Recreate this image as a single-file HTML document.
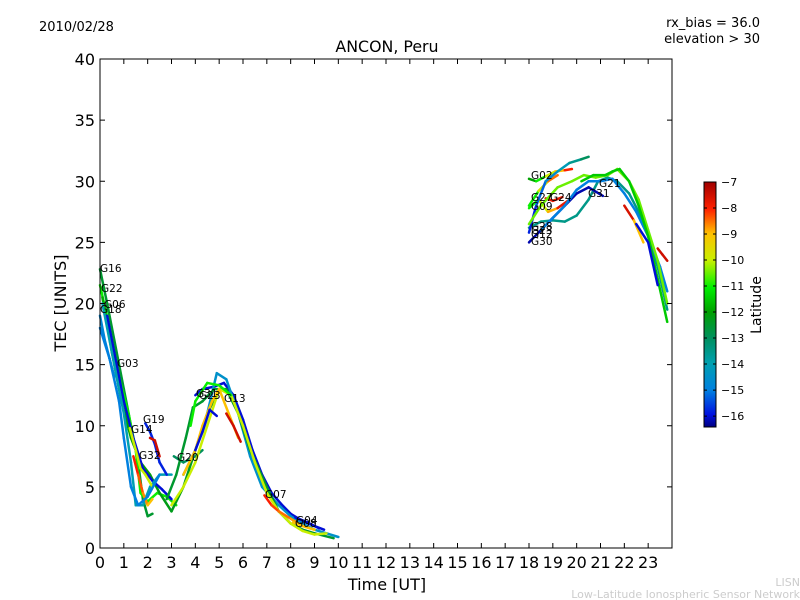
<!DOCTYPE html>
<html><head><meta charset="utf-8"><style>
body{margin:0;background:#fff;}
svg{display:block;font-family:"DejaVu Sans","Liberation Sans",sans-serif;}
</style></head><body>
<svg id="chart" width="800" height="600" viewBox="0 0 800 600">
<defs>
<linearGradient id="cbgrad" x1="0" y1="1" x2="0" y2="0">
<stop offset="0" stop-color="#000080"/><stop offset="0.05" stop-color="#0010e0"/>
<stop offset="0.15" stop-color="#0080e0"/><stop offset="0.26" stop-color="#00a0b0"/>
<stop offset="0.36" stop-color="#009060"/><stop offset="0.47" stop-color="#00a000"/>
<stop offset="0.57" stop-color="#00f000"/><stop offset="0.68" stop-color="#c8f000"/>
<stop offset="0.79" stop-color="#ffc000"/><stop offset="0.89" stop-color="#ff2000"/>
<stop offset="1" stop-color="#a00000"/>
</linearGradient>
</defs>
<text x="39" y="31" font-size="13">2010/02/28</text>
<text x="760" y="27" font-size="13" text-anchor="end">rx_bias = 36.0</text>
<text x="760" y="43" font-size="13" text-anchor="end">elevation &gt; 30</text>
<text x="387" y="52" font-size="15.8" text-anchor="middle">ANCON, Peru</text>
<g id="series"></g>
<g id="labels" font-size="10.5"></g>
<rect x="100" y="59" width="572" height="489" fill="none" stroke="#000" stroke-width="1"/>
<g id="axes"></g>
<text x="387" y="590" font-size="16" text-anchor="middle">Time [UT]</text>
<text transform="translate(66,303) rotate(-90)" font-size="16" text-anchor="middle">TEC [UNITS]</text>
<rect x="704" y="182" width="12" height="245" fill="url(#cbgrad)" stroke="#000" stroke-width="1"/>
<g id="cbticks" font-size="11"></g>
<text transform="translate(761,305) rotate(-90)" font-size="14" text-anchor="middle">Latitude</text>
<text x="800" y="586" font-size="11" fill="#ccc" text-anchor="end">LISN</text>
<text x="800" y="598" font-size="11" fill="#ccc" text-anchor="end">Low-Latitude Ionospheric Sensor Network</text>
</svg>
<script>
const xTicks=[0,1,2,3,4,5,6,7,8,9,10,11,12,13,14,15,16,17,18,19,20,21,22,23];
const yTicks=[0,5,10,15,20,25,30,35,40];
const cbTicks=[-7,-8,-9,-10,-11,-12,-13,-14,-15,-16];
const trackNames=["G16","G22","G06","G18","G03","teal1","G19","G14","G32","G32b","G20","G13","hump-teal","hump-green","hump-yellow","hump-orange","G31","hump-red","G23","G07","G04","G08","lightblue1",
"G02","G27","G24","G09","G28","G12","G30","G31b","G21","green2","red1","red2","blue1"];
const trackTimes=[
[0,0.3,0.6,1,1.3,1.6,1.8,2.0,2.2],
[0,0.4,0.8,1.2,1.5,1.7,2,2.4,2.8,3.2],
[0.1,0.5,0.9,1.3,1.7,2.1,2.5,3,3.5,4,4.5,5],
[0,0.2,0.4,0.6],
[0.3,0.6,1,1.4,1.8,2.2,2.6,3],
[0.1,0.5,1,1.3,1.5,1.8,2.1,2.5,3],
[1.9,2.1,2.3,2.5,2.8],
[1.25,1.5,1.7,1.9,2.2],
[1.4,1.6,1.8,2,2.2],
[2.1,2.3,2.5],
[3.1,3.5,4,4.3],
[4,4.3,4.8,5.2,5.6,6,6.4,6.8,7.2,7.6,8,8.5,9,9.4],
[3.5,4,4.5,4.9,5.3,5.8,6.3,6.8,7.5,8,8.5,9,9.5,10],
[2.8,3.2,3.6,3.9,4.3,4.8,5.3,5.8,6.3,7,7.5,8,8.5,9,9.8],
[3,3.5,4,4.5,5,5.5,6,6.5,7,7.5,8,8.5,9,9.5],
[3.5,4,4.3,4.7,5,5.4,5.8],
[4,4.3,4.6,4.9],
[5.3,5.6,5.9],
[3.8,4,4.5,5,5.5],
[6.9,7.2,7.5,8,8.5,9],
[8.2,8.7,9.2],
[8.1,8.5,9],
[0,0.4,0.8,1,1.3,1.6,2,2.5],
[18,18.3,18.7,19.1,19.5,19.8],
[18,18.4,18.8,19.2],
[18.7,19,19.4],
[18,18.4,18.8,19.2,19.7],
[18,18.5,19,19.5,20,20.5,20.9,21.3,21.7,22.2,22.6,23,23.4,23.8],
[18,18.3,18.7,19.2,19.7,20.2,20.5],
[18,18.5,19,19.5,20,20.5,21.1],
[18.5,19,19.5,20,20.5,21,21.5,22,22.5,23,23.5,23.8],
[18,18.5,19.2,19.8,20.3,20.8,21.3,21.7,22.2,22.6,23,23.4,23.8],
[20.2,20.7,21.2,21.5,21.8,22.2,22.6,23,23.4,23.8],
[22,22.4,22.8],
[23.4,23.6,23.8],
[22.5,23,23.4]];
const trackTec=[
[22.8,20,17,13,10,7,4,2.6,2.8],
[21.5,18,14,11,8,4.5,3.8,4.5,4.2,3.5],
[20.5,16,12,9,7,6,4.5,3,5,8,11,13],
[19,17,15.5,14],
[19,16,12,9,6.5,5.5,4.8,4],
[20,16,11,7,3.5,3.5,5,6,6],
[10.2,9.5,8.5,7,6],
[9.8,8,6.5,6,5],
[7.5,6,4.5,3.5,4],
[9,8.8,7.5],
[7.5,7,7.5,8],
[12.5,13,13.2,13.5,12.5,10.5,8,6,4.5,3.6,2.8,2.2,1.8,1.5],
[6,8,11,14.3,13.8,11,7.5,5,3.5,2.6,2,1.5,1.2,0.9],
[4,6,9,11.5,12,13,13,11,8,5,3,2,1.5,1.2,0.8],
[3.5,5,7,10,13,12.5,10,7,4.5,3,2,1.4,1.1,1.2],
[6,8,10,12,13,11,9],
[8,9.5,11.3,10.8],
[11,10,8.7],
[10,12,13.5,13.3,12.5],
[4.3,3.5,3,2.4,1.8,1.5],
[2.5,2.1,1.6],
[2.1,1.8,1.5],
[18,15.5,12,9,5,3.5,4.2,6],
[30.2,30,30.4,30.8,30.9,31],
[28,29.2,30,30.5],
[28.6,28.4,28.7],
[27.8,28.5,27.5,27.8,28.5],
[26.2,26.7,26.8,26.7,27.2,28.5,30,30.3,30,29,27.5,25.5,23,19.5],
[25.8,28,30,30.8,31.5,31.8,32],
[25,26,27,28,29,29.5,28.8],
[26,27,28,29.3,30,30,30.2,29,27.5,25.5,23,21],
[26.5,28,29.5,30,30.5,30.3,30.5,31,30,28.5,26,23.5,20],
[30,30.5,30.5,30.8,31,30,28,25.5,22,18.5],
[28,26.8,25],
[24.5,24,23.5],
[26.5,25,21.5]];
const trackLatStart=[-12.5,-11,-11.8,-14.8,-16,-14,-15.8,-10,-8,-7.5,-13,-16,-14.5,-12.5,-10,-9,-16,-7.5,-11,-8,-16,-9,-15,
-12,-11,-7.8,-11,-13.5,-15.8,-16.2,-15,-10.5,-11.5,-7.6,-7.5,-16];
const trackLatEnd=[-12.5,-11,-12.5,-14.8,-16,-14,-15.8,-10,-9,-7.5,-13,-16,-14.5,-12.5,-10,-9,-16,-7.5,-11,-9,-16,-9,-15,
-8,-8.5,-7.8,-7.8,-13.5,-13,-16.2,-15,-10.5,-11.5,-9,-7.5,-16];
const satLabels=[["G16",100,272],["G22",101,292],["G06",104,308],["G18",100,313],["G03",117,367],["G19",143,423],["G14",131,433],["G32",139,459],["G20",177,461],["G31",196,397],["G23",199,399],["G13",224,402],["G07",265,498],["G04",296,524],["G08",295,527],
["G02",531,179],["G27",531,201],["G24",550,201],["G09",531,210],["G28",531,230],["G23",531,234],["G12",531,238],["G30",531,245],["G31",588,197],["G21",599,187]];

const NS="http://www.w3.org/2000/svg";
const xS=t=>100+t*(572/24);
const yS=v=>548-v*(489/40);
const vmin=-16.42,vmax=-7;
const cbY=l=>427-(l-vmin)/(vmax-vmin)*245;
const stops=[[0,[0,0,128]],[0.05,[0,16,224]],[0.15,[0,128,224]],[0.26,[0,160,176]],[0.36,[0,144,96]],[0.47,[0,160,0]],[0.57,[0,240,0]],[0.68,[200,240,0]],[0.79,[255,192,0]],[0.89,[255,32,0]],[1,[160,0,0]]];
function cmap(l){let f=Math.max(0,Math.min(1,(l-vmin)/(vmax-vmin)));
for(let i=1;i<stops.length;i++){if(f<=stops[i][0]){const a=stops[i-1],b=stops[i],u=(f-a[0])/(b[0]-a[0]);
const c=a[1].map((v,k)=>Math.round(v+(b[1][k]-v)*u));return `rgb(${c[0]},${c[1]},${c[2]})`;}}return "rgb(160,0,0)";}
const sg=document.getElementById('series');
trackNames.forEach((n,i)=>{const ts=trackTimes[i],vs=trackTec[i];
for(let j=0;j<ts.length-1;j++){const lat=trackLatStart[i]+(trackLatEnd[i]-trackLatStart[i])*(j/(Math.max(1,ts.length-2)));
const ln=document.createElementNS(NS,'line');
ln.setAttribute('x1',xS(ts[j]));ln.setAttribute('y1',yS(vs[j]));ln.setAttribute('x2',xS(ts[j+1]));ln.setAttribute('y2',yS(vs[j+1]));
ln.setAttribute('stroke',cmap(lat));ln.setAttribute('stroke-width','2.5');ln.setAttribute('stroke-linecap','round');


sg.appendChild(ln);}});
const lg=document.getElementById('labels');
satLabels.forEach(s=>{const t=document.createElementNS(NS,'text');t.setAttribute('x',s[1]);t.setAttribute('y',s[2]);t.textContent=s[0];


lg.appendChild(t);});
const ax=document.getElementById('axes');
xTicks.forEach(v=>{const x=xS(v);
const a=document.createElementNS(NS,'path');a.setAttribute('d',`M${x},548v-5M${x},59v5`);a.setAttribute('stroke','#000');


ax.appendChild(a);
const t=document.createElementNS(NS,'text');t.setAttribute('x',x);t.setAttribute('y',568);t.setAttribute('font-size','16');t.setAttribute('text-anchor','middle');t.textContent=v;


ax.appendChild(t);});
yTicks.forEach(v=>{const y=yS(v);
const a=document.createElementNS(NS,'path');a.setAttribute('d',`M100,${y}h5M672,${y}h-5`);a.setAttribute('stroke','#000');


ax.appendChild(a);
const t=document.createElementNS(NS,'text');t.setAttribute('x',95);t.setAttribute('y',y+6);t.setAttribute('font-size','16');t.setAttribute('text-anchor','end');t.textContent=v;


ax.appendChild(t);});
const cb=document.getElementById('cbticks');
cbTicks.forEach(v=>{const y=cbY(v);
const a=document.createElementNS(NS,'path');a.setAttribute('d',`M704,${y}h3M716,${y}h-3`);a.setAttribute('stroke','#000');


cb.appendChild(a);
const t=document.createElementNS(NS,'text');t.setAttribute('x',721);t.setAttribute('y',y+4);t.textContent='\u2212'+Math.abs(v);


cb.appendChild(t);});
</script>
</body></html>
